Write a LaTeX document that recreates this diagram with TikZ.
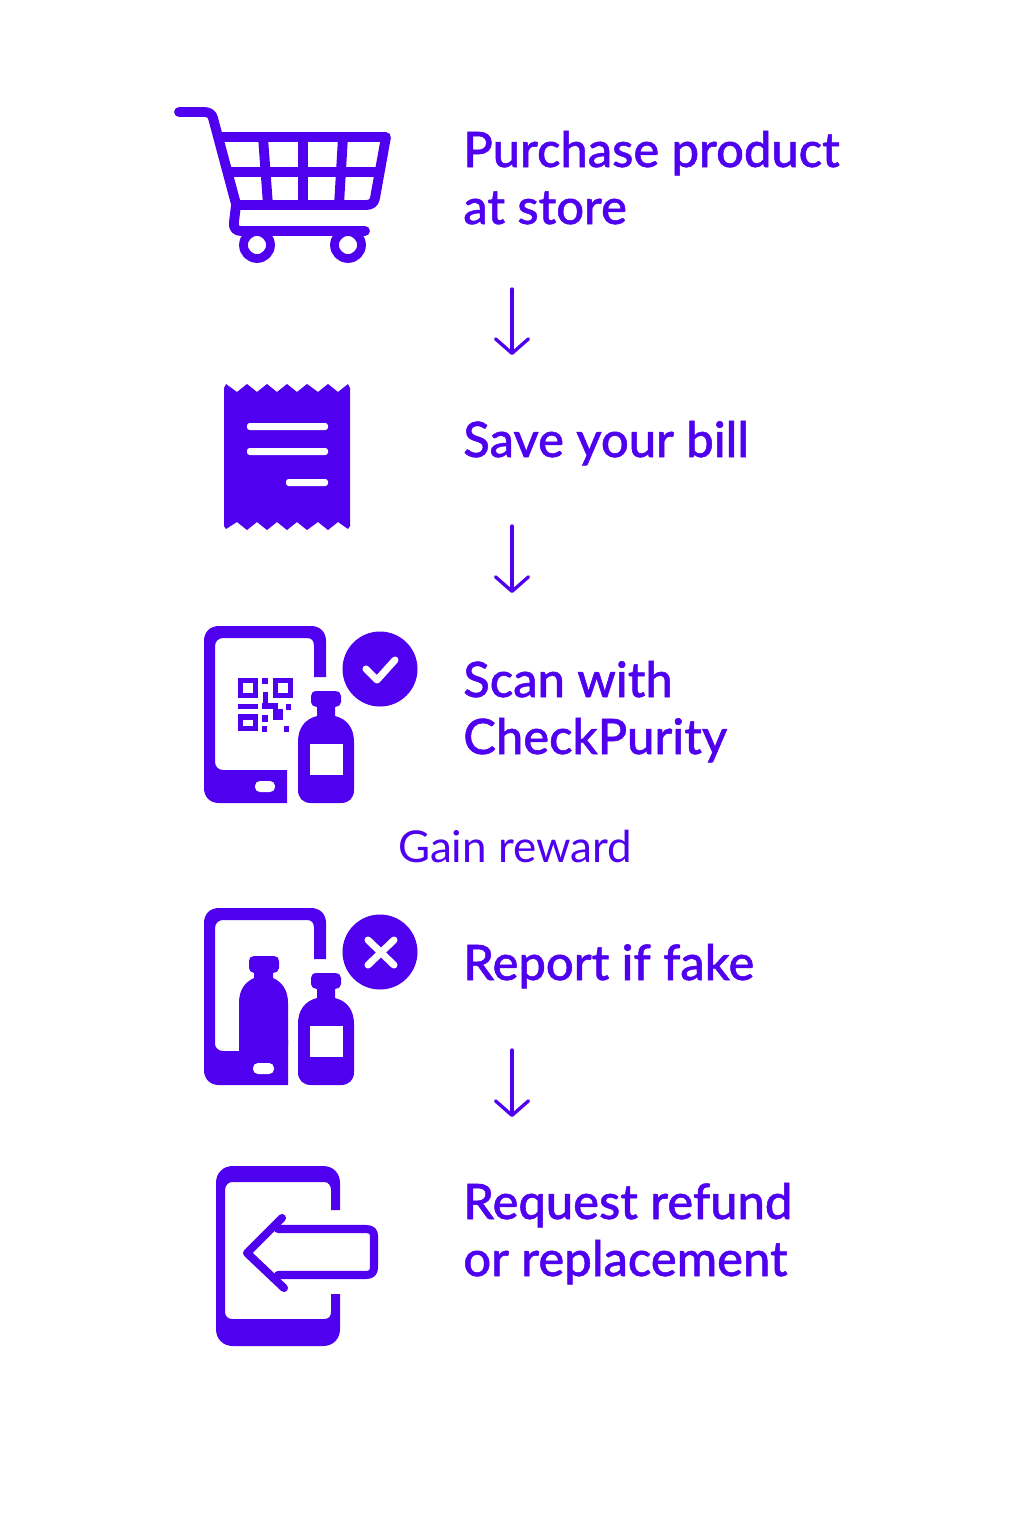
\documentclass[tikz,border=0pt]{standalone}
\usepackage{fontspec}
\setmainfont[BoldFont={Lato Medium},BoldFeatures={FakeBold=1}]{Lato}
\usetikzlibrary{arrows.meta}
\definecolor{brandviolet}{HTML}{4F00EE}
\tikzset{
  steplabel/.style={anchor=base west,inner sep=0pt,text=brandviolet,font=\fontsize{27.8}{32}\selectfont\bfseries,align=left},
  rewardlabel/.style={anchor=base,inner sep=0pt,text=brandviolet,font=\fontsize{25}{30}\selectfont},
  flowarrow/.style={draw=brandviolet,line width=1.9pt,line cap=round,-{Straight Barb[length=2.9mm,width=6.6mm,line width=1.9pt,round]}},
  iconline/.style={draw=brandviolet,line width=5.6pt,line cap=round,line join=round},
  iconfill/.style={fill=brandviolet,draw=none},
  iconhole/.style={fill=white,draw=none},
  holeline/.style={draw=white,line width=4pt,line cap=round,line join=round}
}
\begin{document}
\begin{tikzpicture}[x=0.02cm,y=-0.02cm]
  \useasboundingbox (0,0) rectangle (1024,1536);
  % labels
  \node[steplabel] (purchase) at (463,167) {Purchase product};
  \node[steplabel] (store) at (463,224) {at store};
  \node[steplabel] (save) at (463,457) {Save your bill};
  \node[steplabel] (scan) at (463,697) {Scan with};
  \node[steplabel] (checkpurity) at (463,754) {CheckPurity};
  \node[rewardlabel] (reward) at (515,862) {Gain reward};
  \node[steplabel] (report) at (463,980) {Report if fake};
  \node[steplabel] (refund) at (463,1219) {Request refund};
  \node[steplabel] (replacement) at (463,1276) {or replacement};
  % arrows
  \coordinate (a1top) at (512,289);
  \coordinate (a1end) at (512,355);
  \coordinate (a2top) at (512,526);
  \coordinate (a2end) at (512,593);
  \coordinate (a3top) at (512,1050);
  \coordinate (a3end) at (512,1117);
  \draw[flowarrow] (a1top) -- (a1end);
  \draw[flowarrow] (a2top) -- (a2end);
  \draw[flowarrow] (a3top) -- (a3end);
  % cart
  \draw[iconline] (179,112) -- (204,112) .. controls (209,112) and (212,114) .. (213,118) -- (236,204);
  \draw[iconline] (219,137) -- (386,137) -- (375,198) .. controls (374,203) and (371,205) .. (366,205) -- (236,205);
  \draw[iconline,line cap=butt] (226,172) -- (380,172);
  \draw[iconline,line cap=butt] (263,137) -- (268,205);
  \draw[iconline,line cap=butt] (303,137) -- (303,205);
  \draw[iconline,line cap=butt] (343,137) -- (339,205);
  \draw[iconline] (236,205) -- (234,222) .. controls (233,228) and (236,231) .. (241,231) -- (365,231);
  \draw[iconline,line width=5pt] (257,245) circle (13.5);
  \draw[iconline,line width=5pt] (348,245) circle (13.5);
  % bill
  \fill[iconfill] (224,388) -- (226,384) -- (237,392) -- (247,384) -- (257,392) -- (267,384) -- (277,392) -- (287,384) -- (297,392) -- (307,384) -- (318,392) -- (328,384) -- (338,392) -- (348,384) -- (350,388)
    -- (350,526) -- (348,529) -- (338,522) -- (328,530) -- (318,522) -- (307,530) -- (297,522) -- (287,530) -- (277,522) -- (267,530) -- (257,522) -- (247,530) -- (237,522) -- (226,529) -- (224,526) -- cycle;
  \fill[iconhole,rounded corners=1.5] (247,423) rectangle (328,430);
  \fill[iconhole,rounded corners=1.5] (247,448) rectangle (328,455);
  \fill[iconhole,rounded corners=1.5] (286,479) rectangle (328,486);
  % scan
  \fill[iconfill] (219,626) .. controls (210,626) and (204,632) .. (204,641) -- (204,788) .. controls (204,797) and (210,803) .. (219,803) -- (287,803) -- (287,770) -- (223,770) .. controls (219,770) and (215,767) .. (215,762) -- (215,646) .. controls (215,641) and (219,638) .. (223,638) -- (307,638) .. controls (312,638) and (314,641) .. (314,646) -- (314,677) -- (326,677) -- (326,641) .. controls (326,632) and (320,626) .. (311,626) -- cycle;
  \fill[iconhole,rounded corners=2.8] (255,781) rectangle (275,792);
  \fill[iconfill] (380,669) circle (37.5);
  \draw[holeline] (366,669) -- (377,680) -- (395,660);
  % qr code
  \draw[brandviolet,line width=3pt] (240.5,680.5) rectangle (255.5,695.5);
  \draw[brandviolet,line width=3pt] (275.5,680.5) rectangle (290.5,695.5);
  \draw[brandviolet,line width=3pt] (240.5,717) rectangle (255.5,728.5);
  \fill[iconfill] (238,704) rectangle (258,709);
  \fill[iconfill] (262,678) rectangle (268,684);
  \fill[iconfill] (263,692) rectangle (268,703);
  \fill[iconfill] (262,703) rectangle (278,709);
  \fill[iconfill] (273,709) rectangle (283,720);
  \fill[iconfill] (286,704) rectangle (291,710);
  \fill[iconfill] (262,715) rectangle (268,722);
  \fill[iconfill] (262,726) rectangle (267,732);
  \fill[iconfill] (284,726) rectangle (289,732);
  % scan bottle
  \fill[iconfill] (317,691) -- (334,691) .. controls (339,691) and (341,693) .. (341,696) -- (341,702) .. controls (341,705) and (339,706) .. (335,707) -- (335,716) .. controls (347,719) and (354,728) .. (354,742) -- (354,790) .. controls (354,798) and (349,803) .. (341,803) -- (311,803) .. controls (303,803) and (298,798) .. (298,790) -- (298,742) .. controls (298,728) and (305,719) .. (317,716) -- (317,707) .. controls (313,706) and (311,705) .. (311,702) -- (311,696) .. controls (311,693) and (313,691) .. (317,691) -- cycle;
  \fill[iconhole] (310,744) rectangle (343,775);
  % report
  \fill[iconfill] (219,908) .. controls (210,908) and (204,914) .. (204,923) -- (204,1070) .. controls (204,1079) and (210,1085) .. (219,1085) -- (288,1085) -- (288,1040) -- (239,1040) -- (239,1051) -- (223,1051) .. controls (219,1051) and (215,1048) .. (215,1044) -- (215,928) .. controls (215,923) and (219,920) .. (223,920) -- (307,920) .. controls (312,920) and (314,923) .. (314,928) -- (314,959) -- (326,959) -- (326,923) .. controls (326,914) and (320,908) .. (311,908) -- cycle;
  \fill[iconfill] (254,956) -- (274,956) .. controls (277,956) and (279,958) .. (279,961) -- (279,968) .. controls (279,971) and (277,972) .. (273,973) -- (273,978) .. controls (282,982) and (288,990) .. (288,1003) -- (288,1045) -- (239,1045) -- (239,1003) .. controls (239,990) and (245,982) .. (254,978) -- (254,973) .. controls (251,972) and (249,971) .. (249,968) -- (249,961) .. controls (249,958) and (251,956) .. (254,956) -- cycle;
  \fill[iconhole,rounded corners=2.8] (253,1063) rectangle (274,1074);
  \fill[iconfill] (380,952) circle (37.5);
  \draw[holeline] (368,940) -- (394,965);
  \draw[holeline] (394,940) -- (368,965);
  \fill[iconfill] (317,973) -- (334,973) .. controls (339,973) and (341,975) .. (341,978) -- (341,984) .. controls (341,987) and (339,988) .. (335,989) -- (335,998) .. controls (347,1001) and (354,1010) .. (354,1024) -- (354,1072) .. controls (354,1080) and (349,1085) .. (341,1085) -- (311,1085) .. controls (303,1085) and (298,1080) .. (298,1072) -- (298,1024) .. controls (298,1010) and (305,1001) .. (317,998) -- (317,989) .. controls (313,988) and (311,987) .. (311,984) -- (311,978) .. controls (311,975) and (313,973) .. (317,973) -- cycle;
  \fill[iconhole] (310,1026) rectangle (343,1057);
  % refund
  \fill[iconfill] (233,1166) .. controls (223,1166) and (216,1173) .. (216,1183) -- (216,1329) .. controls (216,1339) and (223,1346) .. (233,1346) -- (323,1346) .. controls (333,1346) and (340,1339) .. (340,1329) -- (340,1294) -- (331,1294) -- (331,1312) .. controls (331,1316) and (329,1319) .. (324,1319) -- (232,1319) .. controls (228,1319) and (225,1316) .. (225,1312) -- (225,1190) .. controls (225,1186) and (228,1182) .. (232,1182) -- (324,1182) .. controls (329,1182) and (331,1186) .. (331,1190) -- (331,1210) -- (340,1210) -- (340,1183) .. controls (340,1173) and (333,1166) .. (323,1166) -- cycle;
  \draw[iconline,line width=4.6pt] (282,1218) -- (247,1253) -- (284,1288);
  \draw[iconline,line width=4.6pt] (278,1229) -- (366,1229) .. controls (372,1229) and (374,1232) .. (374,1236) -- (374,1267) .. controls (374,1272) and (372,1275) .. (366,1275) -- (278,1275);
\end{tikzpicture}
\end{document}
